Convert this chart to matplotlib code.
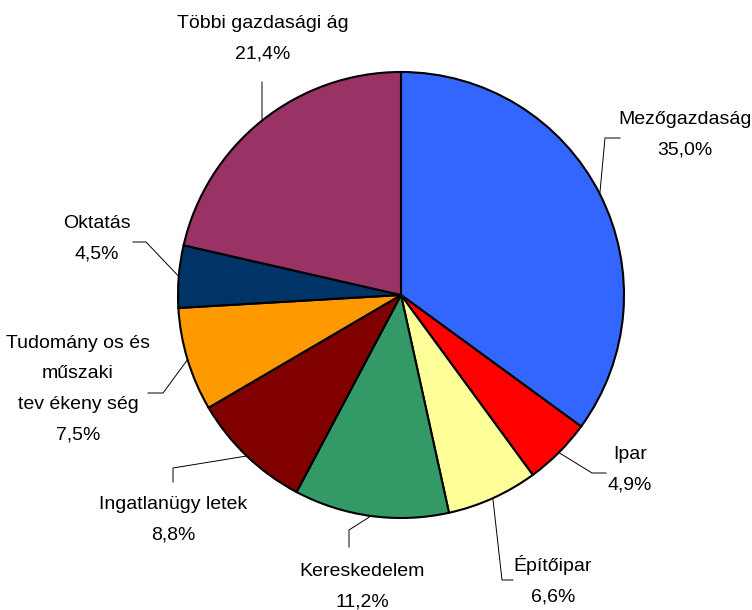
import numpy as np
import matplotlib.pyplot as plt

# data
labels = ['Mezőgazdaság', 'Ipar', 'Építőipar', 'Kereskedelem', 'Ingatlanügy letek',
          'Tudomány os és\nműszaki\ntev ékeny ség', 'Oktatás', 'Többi gazdasági ág']
shares = [35.0, 4.9, 6.6, 11.2, 8.8, 7.5, 4.5, 21.4]
colors = ['#3366FF', '#FF0000', '#FFFF99', '#339966', '#800000', '#FF9900', '#003366', '#993366']

# layout (pixel coords, y from top)
W, H = 752, 610
cx, cy, r = 401, 295, 223
text_pos = [(685, 135), (630, 470), (553, 580), (362, 587), (173, 520),
            (78, 389), (97, 239), (263, 39)]
leader_pts = [[(605, 138), (620, 138)], [(592, 473), (606, 473)],
              [(502, 580), (513, 580)], [(349, 530), (349, 547)],
              [(173, 468), (173, 482)], [(163, 393), (148, 393)],
              [(146, 242), (133, 242)], [(262, 95), (262, 82)]]

plt.rcParams['font.family'] = ['Liberation Sans', 'DejaVu Sans']

fig = plt.figure(figsize=(W / 100, H / 100), dpi=100)
ax = fig.add_axes([0, 0, 1, 1])

wedges, _ = ax.pie(shares, colors=colors, startangle=90, counterclock=False,
                   center=(cx, H - cy), radius=r,
                   wedgeprops=dict(edgecolor='black', linewidth=1.5))

ax.set_xlim(0, W)
ax.set_ylim(0, H)
ax.set_aspect('equal')
ax.axis('off')

total = sum(shares)
start = 90.0
for i, (lab, val) in enumerate(zip(labels, shares)):
    mid = start - 360 * (val / 2) / total
    start -= 360 * val / total
    ax0 = cx + r * np.cos(np.radians(mid))
    ay0 = (H - cy) + r * np.sin(np.radians(mid))
    xs = [ax0] + [p[0] for p in leader_pts[i]]
    ys = [ay0] + [H - p[1] for p in leader_pts[i]]
    ax.plot(xs, ys, color='black', linewidth=0.7)
    tx, ty = text_pos[i]
    txt = lab + '\n' + f'{val:.1f}%'.replace('.', ',')
    ax.text(tx, H - ty, txt, ha='center', va='center', fontsize=14,
            linespacing=2.05, color='black')

fig.savefig('out.png', dpi=100)
